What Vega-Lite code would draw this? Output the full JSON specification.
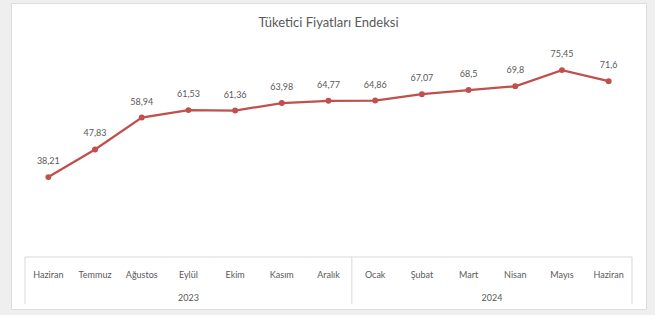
{
  "$schema": "https://vega.github.io/schema/vega-lite/v6.json",
  "width": 635,
  "height": 306,
  "autosize": {"type": "none"},
  "padding": {"left": 11, "top": 3, "right": 9, "bottom": 6},
  "background": "#efefef",
  "config": {
    "view": {"fill": "white", "stroke": "#dcdcdc"},
    "font": "Lato",
    "locale": {"number": {"decimal": ",", "thousands": ".", "grouping": [3], "currency": ["", " ₺"]}}
  },
  "title": {
    "text": "Tüketici Fiyatları Endeksi",
    "frame": "group",
    "anchor": "middle",
    "offset": -27,
    "fontSize": 13,
    "fontWeight": "normal",
    "color": "#595959",
    "font": "Lato"
  },
  "datasets": {
    "cpi": [
      {"key": "Haziran 2023", "value": 38.21},
      {"key": "Temmuz 2023", "value": 47.83},
      {"key": "Ağustos 2023", "value": 58.94},
      {"key": "Eylül 2023", "value": 61.53},
      {"key": "Ekim 2023", "value": 61.36},
      {"key": "Kasım 2023", "value": 63.98},
      {"key": "Aralık 2023", "value": 64.77},
      {"key": "Ocak 2024", "value": 64.86},
      {"key": "Şubat 2024", "value": 67.07},
      {"key": "Mart 2024", "value": 68.5},
      {"key": "Nisan 2024", "value": 69.8},
      {"key": "Mayıs 2024", "value": 75.45},
      {"key": "Haziran 2024", "value": 71.6}
    ]
  },
  "layer": [
    {
      "data": {"name": "cpi"},
      "mark": {"type": "line", "color": "#c0504d", "strokeWidth": 2.25},
      "encoding": {
        "x": {
          "field": "key",
          "type": "nominal",
          "sort": null,
          "scale": {
            "type": "band",
            "paddingInner": 0,
            "paddingOuter": 0.3,
            "domain": ["Haziran 2023", "Temmuz 2023", "Ağustos 2023", "Eylül 2023", "Ekim 2023", "Kasım 2023", "Aralık 2023", "Ocak 2024", "Şubat 2024", "Mart 2024", "Nisan 2024", "Mayıs 2024", "Haziran 2024"]
          },
          "axis": {
            "orient": "bottom",
            "offset": -52,
            "domain": false,
            "ticks": false,
            "tickSize": 0,
            "grid": false,
            "title": null,
            "labelAngle": 0,
            "labelExpr": "split(datum.value, ' ')[0]",
            "labelFont": "Lato",
            "labelFontSize": 9,
            "labelColor": "#595959",
            "labelPadding": 17,
            "labelBaseline": "middle"
          }
        },
        "y": {"field": "value", "type": "quantitative", "axis": null, "scale": {"domain": [-7.7, 98.8], "nice": false, "zero": false}}
      }
    },
    {
      "data": {"name": "cpi"},
      "mark": {"type": "tick", "color": "#d9d9d9", "thickness": 1, "size": 47, "opacity": 1},
      "encoding": {
        "x": {"field": "key", "type": "nominal", "sort": null},
        "y": {"datum": 10.4, "type": "quantitative"}
      }
    },
    {
      "data": {"name": "cpi"},
      "mark": {"type": "point", "filled": true, "color": "#c0504d", "size": 35, "opacity": 1},
      "encoding": {
        "x": {"field": "key", "type": "nominal", "sort": null},
        "y": {"field": "value", "type": "quantitative"}
      }
    },
    {
      "data": {"name": "cpi"},
      "mark": {"type": "text", "dy": -16, "fontSize": 9, "color": "#595959", "font": "Lato", "baseline": "middle"},
      "encoding": {
        "x": {"field": "key", "type": "nominal", "sort": null},
        "y": {"field": "value", "type": "quantitative"},
        "text": {"field": "value", "type": "quantitative", "format": ".2~f"}
      }
    },
    {
      "data": {"values": [{"key": "Haziran 2023"}, {"key": "Ocak 2024"}]},
      "mark": {"type": "rule", "color": "#d9d9d9", "strokeWidth": 1},
      "encoding": {
        "x": {"field": "key", "type": "nominal", "bandPosition": 0, "sort": null},
        "y": {"datum": 10.4, "type": "quantitative"},
        "y2": {"datum": -5.96}
      }
    },
    {
      "data": {"values": [{"key": "Haziran 2024"}]},
      "mark": {"type": "rule", "color": "#d9d9d9", "strokeWidth": 1},
      "encoding": {
        "x": {"field": "key", "type": "nominal", "bandPosition": 1, "sort": null},
        "y": {"datum": 10.4, "type": "quantitative"},
        "y2": {"datum": -5.96}
      }
    },
    {
      "data": {"values": [{"year": "2023", "key": "Eylül 2023"}]},
      "mark": {"type": "text", "fontSize": 9, "color": "#595959", "font": "Lato", "baseline": "middle"},
      "encoding": {
        "x": {"field": "key", "type": "nominal", "bandPosition": 0.5, "sort": null},
        "y": {"datum": -3.9, "type": "quantitative"},
        "text": {"field": "year"}
      }
    },
    {
      "data": {"values": [{"year": "2024", "key": "Nisan 2024"}]},
      "mark": {"type": "text", "fontSize": 9, "color": "#595959", "font": "Lato", "baseline": "middle"},
      "encoding": {
        "x": {"field": "key", "type": "nominal", "bandPosition": 0, "sort": null},
        "y": {"datum": -3.9, "type": "quantitative"},
        "text": {"field": "year"}
      }
    }
  ]
}
